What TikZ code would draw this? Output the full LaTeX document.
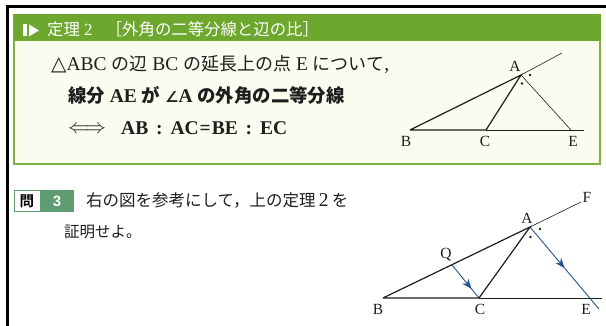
\documentclass[tikz,border=0pt]{standalone}
\usepackage{fontspec}
\usetikzlibrary{arrows.meta,decorations.markings}
\setmainfont{Liberation Serif}
\newfontfamily\jp{Noto Sans CJK JP}
\newfontfamily\jpb{Noto Sans CJK JP Bold}
\newfontfamily\sym{DejaVu Sans}
\newfontfamily\lsans{Liberation Sans}
\newcommand\jr[1]{{\jp\fontsize{18}{20}\selectfont #1}}
\newcommand\jbd[1]{{\jpb\fontsize{18.4}{20}\selectfont #1}}
\definecolor{hgreen}{HTML}{6EA72E}
\definecolor{bgreen}{HTML}{7FB241}
\definecolor{cream}{HTML}{FBFCEF}
\definecolor{qgreen}{HTML}{5F9C72}
\definecolor{ink}{HTML}{1E1E1E}
\definecolor{arrowblue}{HTML}{24558F}
\tikzset{
  txt/.style={anchor=base west,inner sep=0pt,text=ink,font=\fontsize{19.5}{22}\selectfont},
  btxt/.style={txt,font=\fontsize{19.5}{22}\selectfont\bfseries},
  head/.style={anchor=base west,inner sep=0pt,text=white,font=\fontsize{16.4}{20}\selectfont},
  lbl/.style={inner sep=0pt,text=ink,font=\fontsize{15.5}{18}\selectfont},
  thin line/.style={draw=ink,line width=0.6pt},
  thick line/.style={draw=ink,line width=1.2pt},
  blue line/.style={draw=arrowblue,line width=0.9pt},
  midarrow/.style={postaction={decorate},decoration={markings,mark=at position #1 with {\arrow{Stealth[length=10pt,width=8pt,color=arrowblue]}}}},
  angdot/.style={circle,fill=ink,inner sep=0pt,minimum size=2.6pt},
}
\begin{document}
\begin{tikzpicture}[x=1pt,y=-1pt]
\useasboundingbox (0,0) rectangle (606,326);
\fill[white] (0,0) rectangle (606,326);
% outer frame
\draw[black,line width=2.5pt] (606,6.5) -- (7.5,6.5) -- (7.5,326);
% theorem box
\filldraw[fill=cream,draw=bgreen,line width=1.5pt] (14,15) rectangle (600,164);
\fill[hgreen] (13.5,14.5) rectangle (600.5,41);
% header icon
\fill[white] (23,24.5) rectangle (26.5,36.5);
\fill[white] (29,24.5) -- (39,30.5) -- (29,36.5) -- cycle;
\node[head] (headA) at (47,36) {{\jp 定理}};
\node[head,font=\fontsize{17}{20}\selectfont] (headN) at (84,36) {2};
\node[head] (headB) at (105.6,36) {{\jp［外角の二等分線と辺の比］}};
% theorem text
\node[txt] (l1) at (51,71) {{\sym\fontsize{20}{22}\selectfont△}ABC \jr{の辺} BC \jr{の延長上の点} E \jr{について},};
\node[btxt] (l2) at (68,103) {\jbd{線分} AE \jbd{が} {\sym\fontsize{15}{18}\selectfont\bfseries ∠}A \jbd{の外角の二等分線}};
\node[txt] (l3a) at (68,134) {\fontsize{20.74}{22}\selectfont$\Longleftrightarrow$};
\node[btxt] (l3b) at (121,135) {AB\kern3pt{} : \kern3pt{}AC\kern1pt{}=\kern1pt{}BE\kern3pt{} : \kern3pt{}EC};
% top figure
\coordinate (A) at (521,75);
\coordinate (B) at (410,130);
\coordinate (C) at (486,130);
\coordinate (E) at (571,130);
\coordinate (X) at (584,130);
\coordinate (F) at (562,53);
\draw[thin line] (A) -- (F);
\draw[thin line] (C) -- (X);
\draw[thin line] (A) -- (E);
\draw[thick line] (B) -- (A) -- (C) -- (B);
\node[lbl] (la) at (515,66) {A};
\node[lbl] (lb) at (406,141) {B};
\node[lbl] (lc) at (485,141) {C};
\node[lbl] (le) at (573,141) {E};
\node[angdot] (d1) at (530,75) {};
\node[angdot] (d2) at (522,83.5) {};
% question
\node[draw=qgreen,fill=white,line width=1pt,minimum width=26pt,minimum height=21pt,inner sep=0pt,font=\fontsize{14.5}{16}\selectfont] (q) at (27,201.5) {{\jpb 問}};
\node[fill=qgreen,minimum width=34pt,minimum height=22pt,inner sep=0pt,text=white,font=\fontsize{15}{16}\selectfont] (q3) at (57,201.5) {{\lsans\bfseries 3}};
\node[txt] (q1) at (86,207) {{\jp\fontsize{16.5}{20}\selectfont 右の図を参考にして，上の定理}\,2\,{\jp\fontsize{16.5}{20}\selectfont を}};
\node[txt] (q2) at (64,238) {{\jp\fontsize{15.5}{20}\selectfont 証明せよ。}};
% bottom figure
\coordinate (A2) at (530,227);
\coordinate (B2) at (383,298);
\coordinate (C2) at (479,298);
\coordinate (X2) at (602,298);
\coordinate (F2) at (581,202);
\coordinate (Q2) at (452,265);
\coordinate (E2) at (599,309);
\draw[thin line] (A2) -- (F2);
\draw[thin line] (C2) -- (X2);
\draw[blue line,midarrow=0.5] (A2) -- (E2);
\draw[blue line,midarrow=0.72] (Q2) -- (C2);
\draw[thick line] (B2) -- (A2) -- (C2) -- (B2);
\node[lbl] (la2) at (527,218) {A};
\node[lbl] (lb2) at (378,309) {B};
\node[lbl] (lc2) at (480,309) {C};
\node[lbl] (le2) at (586,309) {E};
\node[lbl] (lf2) at (587,197) {F};
\node[lbl] (lq2) at (446,255) {Q};
\node[angdot] (d3) at (540,229) {};
\node[angdot] (d4) at (530.5,237) {};
\end{tikzpicture}
\end{document}
